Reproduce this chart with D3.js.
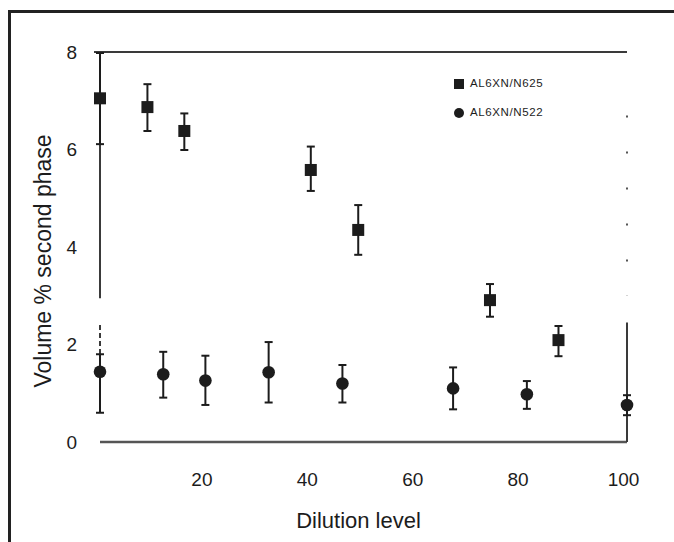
<!DOCTYPE html>
<html>
<head>
<meta charset="utf-8">
<script src="https://cdn.jsdelivr.net/npm/d3@7"></script>
<style>
  html, body { margin: 0; padding: 0; background: #fff; }
  svg { display: block; }
</style>
</head>
<body>
<script>
// ---- data ----
const xTicks = [20, 40, 60, 80, 100];
const yTicks = [0, 2, 4, 6, 8];
const seriesNames = ["AL6XN/N625", "AL6XN/N522"];

const sqX  = [0, 9, 16, 40, 49, 74, 87];
const sqY  = [7.05, 6.87, 6.38, 5.58, 4.35, 2.91, 2.09];
const sqHi = [7.98, 7.34, 6.74, 6.06, 4.86, 3.24, 2.38];
const sqLo = [6.11, 6.38, 5.99, 5.15, 3.84, 2.57, 1.76];

const ciX  = [0, 12, 20, 32, 46, 67, 81, 100];
const ciY  = [1.44, 1.39, 1.26, 1.43, 1.20, 1.10, 0.98, 0.76];
const ciHi = [1.80, 1.85, 1.77, 2.05, 1.58, 1.53, 1.25, 0.96];
const ciLo = [0.60, 0.91, 0.76, 0.81, 0.81, 0.67, 0.68, 0.55];

// ---- layout ----
const W = 674, H = 542;
const svg = d3.select("body").append("svg").attr("width", W).attr("height", H);

const x = d3.scaleLinear().domain([0, 100]).range([100, 627]);
const y = d3.scaleLinear().domain([0, 8]).range([442, 52]);

const ink = "#1c1c1c";
const lineCol = "#3a3a3a";
const font = "Liberation Sans, Arial, sans-serif";

// outer frame (left and top edges)
svg.append("line").attr("x1", 9.5).attr("x2", 9.5).attr("y1", 10).attr("y2", H)
  .attr("stroke", "#222").attr("stroke-width", 3);
svg.append("line").attr("x1", 8).attr("x2", W).attr("y1", 11.5).attr("y2", 11.5)
  .attr("stroke", "#222").attr("stroke-width", 3);

// top line
svg.append("line").attr("x1", x(0) - 6).attr("x2", x(100)).attr("y1", y(8)).attr("y2", y(8))
  .attr("stroke", lineCol).attr("stroke-width", 2);
// left axis (solid upper, broken lower like scan)
svg.append("line").attr("x1", x(0)).attr("x2", x(0)).attr("y1", y(8)).attr("y2", y(2.95))
  .attr("stroke", lineCol).attr("stroke-width", 2);
svg.append("line").attr("x1", x(0)).attr("x2", x(0)).attr("y1", y(2.4)).attr("y2", y(0.6))
  .attr("stroke", lineCol).attr("stroke-width", 2).attr("stroke-dasharray", "5,3");
// bottom axis line
svg.append("line").attr("x1", x(0)).attr("x2", x(100)).attr("y1", y(0)).attr("y2", y(0))
  .attr("stroke", "#555").attr("stroke-width", 2.5);
// right axis (solid lower, dotted upper)
svg.append("line").attr("x1", x(100)).attr("x2", x(100)).attr("y1", y(2.45)).attr("y2", y(0))
  .attr("stroke", lineCol).attr("stroke-width", 2);
svg.append("line").attr("x1", x(100)).attr("x2", x(100)).attr("y1", y(6.7)).attr("y2", y(3.0))
  .attr("stroke", "#555").attr("stroke-width", 2).attr("stroke-dasharray", "2,34");

// ---- axes (labels only) ----
const xAxis = d3.axisBottom(x).tickValues(xTicks).tickSizeInner(0).tickSizeOuter(0).tickPadding(31)
  .tickFormat(d3.format("d"));
const gx = svg.append("g").attr("transform", `translate(0,${y(0)})`).call(xAxis);
gx.select(".domain").remove();
gx.selectAll("text").attr("dx", -4).attr("font-family", font).attr("font-size", 19).attr("fill", ink);

const yAxis = d3.axisLeft(y).tickValues(yTicks).tickSizeInner(0).tickSizeOuter(0).tickPadding(23)
  .tickFormat(d3.format("d"));
const gy = svg.append("g").attr("transform", `translate(${x(0)},0)`).call(yAxis);
gy.select(".domain").remove();
gy.selectAll("text").attr("font-family", font).attr("font-size", 19).attr("fill", ink);

// axis titles
svg.append("text").attr("x", (x(0) + x(100)) / 2 - 5).attr("y", 522)
  .attr("text-anchor", "middle").attr("dominant-baseline", "middle")
  .attr("font-family", font).attr("font-size", 22).attr("fill", ink).text("Dilution level");
svg.append("text").attr("transform", `translate(45,${(y(0) + y(8)) / 2 + 14}) rotate(-90)`)
  .attr("text-anchor", "middle").attr("dominant-baseline", "middle")
  .attr("font-family", font).attr("font-size", 23).attr("fill", ink).text("Volume % second phase");

// ---- error bars ----
function errorBars(xs, lo, hi) {
  const g = svg.append("g").attr("stroke", ink).attr("stroke-width", 2);
  xs.forEach((xv, i) => {
    g.append("line").attr("x1", x(xv)).attr("x2", x(xv)).attr("y1", y(lo[i])).attr("y2", y(hi[i]));
    g.append("line").attr("x1", x(xv) - 4).attr("x2", x(xv) + 4).attr("y1", y(lo[i])).attr("y2", y(lo[i]));
    g.append("line").attr("x1", x(xv) - 4).attr("x2", x(xv) + 4).attr("y1", y(hi[i])).attr("y2", y(hi[i]));
  });
}
errorBars(sqX, sqLo, sqHi);
errorBars(ciX, ciLo, ciHi);

// ---- markers ----
const sqSize = 12;
svg.append("g").selectAll("rect").data(sqX).join("rect")
  .attr("x", (d) => x(d) - sqSize / 2).attr("y", (d, i) => y(sqY[i]) - sqSize / 2)
  .attr("width", sqSize).attr("height", sqSize).attr("fill", ink);
svg.append("g").selectAll("circle").data(ciX).join("circle")
  .attr("cx", (d) => x(d)).attr("cy", (d, i) => y(ciY[i])).attr("r", 6.3).attr("fill", ink);

// ---- legend ----
const lg = svg.append("g");
lg.append("rect").attr("x", 454).attr("y", 79).attr("width", 10).attr("height", 10).attr("fill", ink);
lg.append("circle").attr("cx", 459).attr("cy", 113).attr("r", 5).attr("fill", ink);
lg.selectAll("text").data(seriesNames).join("text")
  .attr("x", 470).attr("y", (d, i) => 84 + i * 29)
  .attr("dominant-baseline", "middle")
  .attr("font-family", font).attr("font-size", 11.5).attr("letter-spacing", 0.6)
  .attr("fill", ink).text((d) => d);
</script>
</body>
</html>
